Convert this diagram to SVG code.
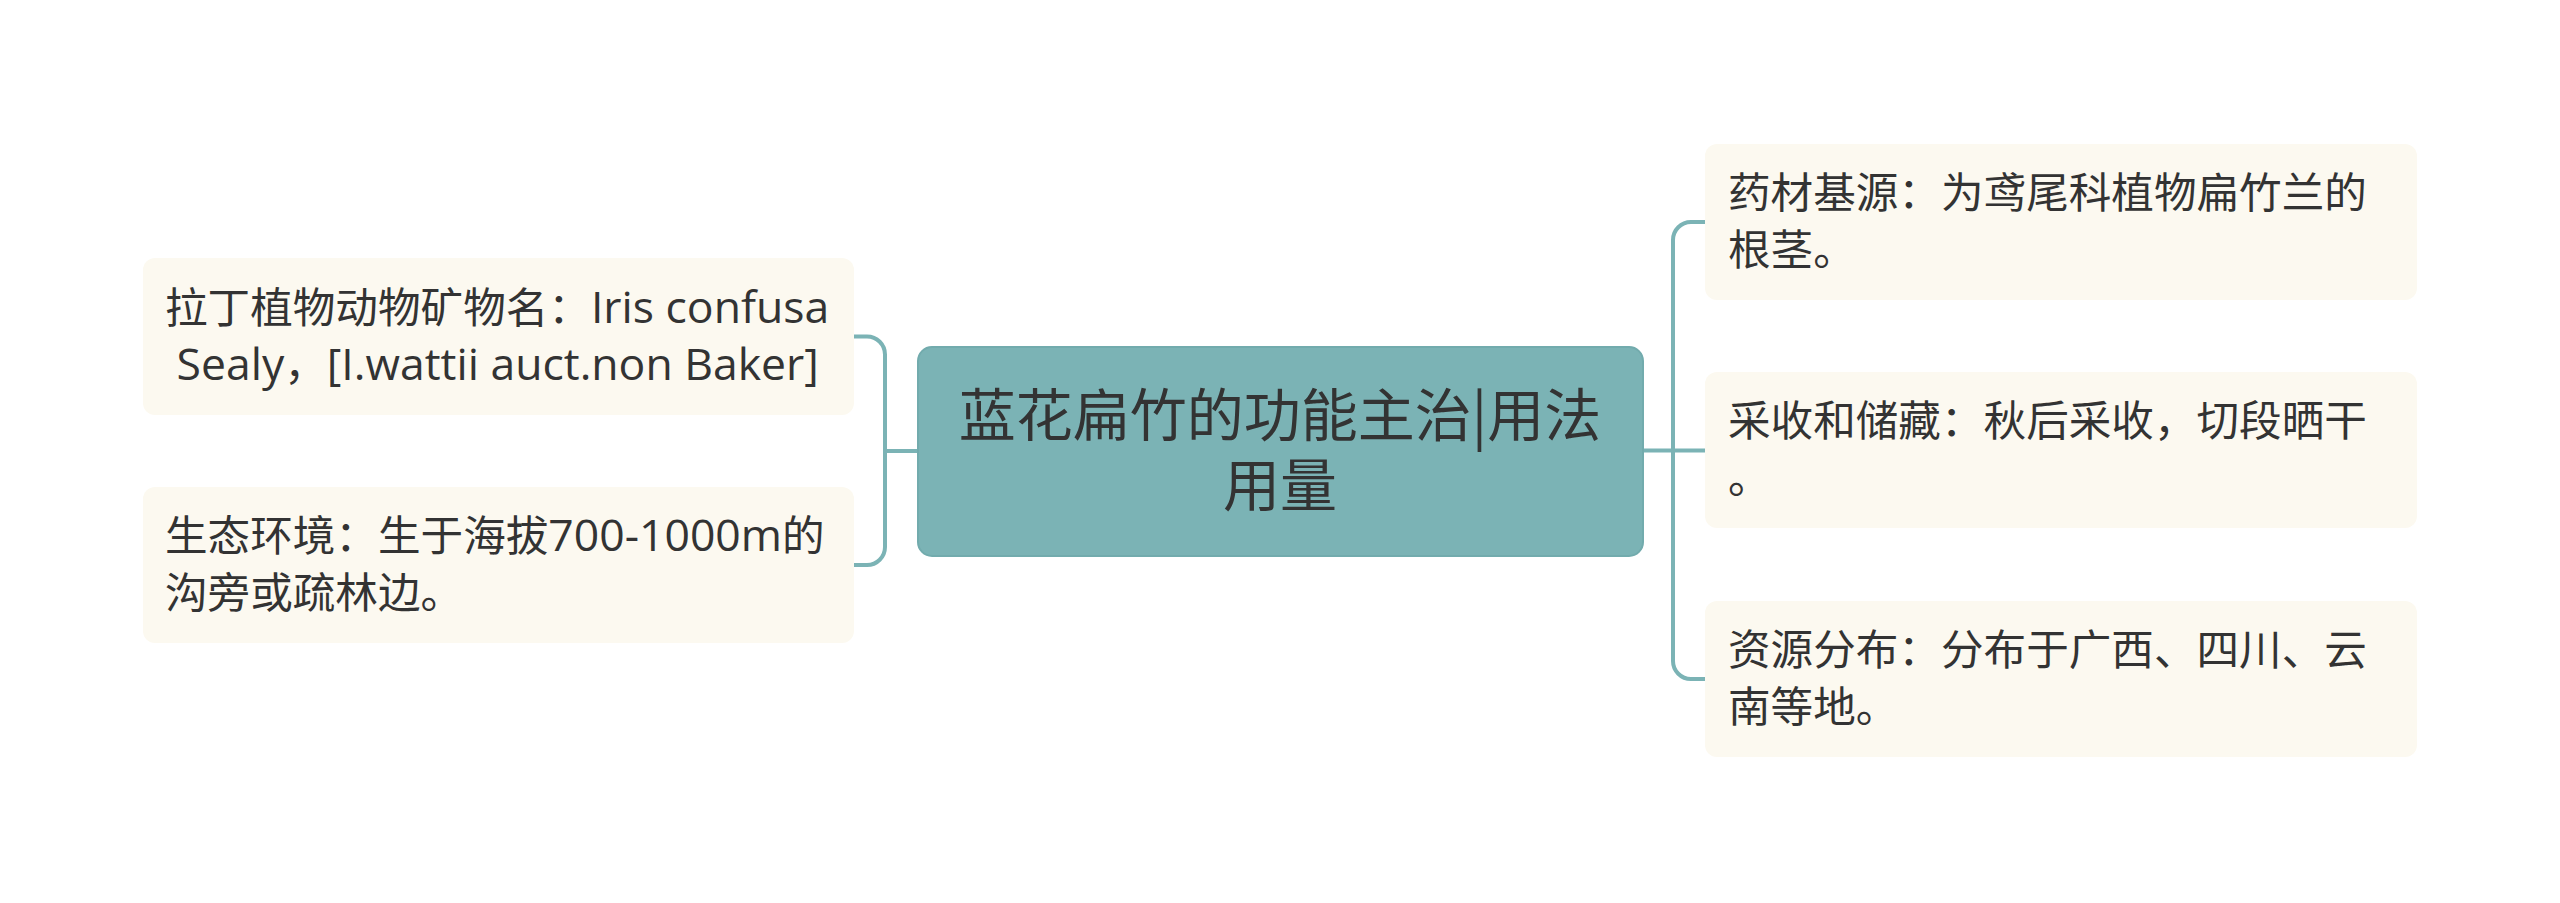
<svg xmlns="http://www.w3.org/2000/svg" width="2560" height="903" viewBox="0 0 2560 903">
  <style>
    .leaf { fill: #fcf9f0; }
    .root { fill: #7bb3b5; stroke: #72abad; stroke-width: 2; }
    .conn { fill: none; stroke: #7bb3b5; stroke-width: 4; stroke-linecap: butt; }
    .t { font-family: "Open Sans", "Noto Sans CJK SC", sans-serif; font-size: 42.6px; fill: #333333; }
    .lat { font-size: 44.5px; }
    .rt { font-family: "Noto Sans CJK SC", sans-serif; font-size: 57px; fill: #333333; text-anchor: middle; }
  </style>
  <rect width="2560" height="903" fill="#ffffff"/>

  <g id="connectors">
    <path class="conn" d="M917 451 H885"/>
    <path class="conn" d="M854 336.5 H867 A18 18 0 0 1 885 354.5 V547 A18 18 0 0 1 867 565 H854"/>
    <path class="conn" d="M1643 450.5 H1705"/>
    <path class="conn" d="M1705 222 H1691 A18 18 0 0 0 1673 240 V661 A18 18 0 0 0 1691 679 H1705"/>
  </g>

  <g id="root">
    <rect class="root" x="918" y="347" width="725" height="209" rx="14"/>
    <text class="rt" x="1280" y="436">蓝花扁竹的功能主治|用法</text>
    <text class="rt" x="1280" y="506">用量</text>
  </g>

  <g id="latin-name">
    <rect class="leaf" x="143" y="258" width="711" height="157" rx="12"/>
    <text class="t" x="165" y="323">拉丁植物动物矿物名：<tspan class="lat">Iris confusa</tspan></text>
    <text class="t" x="165" y="380" xml:space="preserve"><tspan class="lat"> Sealy</tspan>，<tspan class="lat">[I.wattii auct.non Baker]</tspan></text>
  </g>

  <g id="habitat">
    <rect class="leaf" x="143" y="487" width="711" height="156" rx="12"/>
    <text class="t" x="165" y="551">生态环境：生于海拔<tspan class="lat">700-1000m</tspan>的</text>
    <text class="t" x="165" y="608">沟旁或疏林边。</text>
  </g>

  <g id="source">
    <rect class="leaf" x="1705" y="144" width="712" height="156" rx="12"/>
    <text class="t" x="1728" y="208">药材基源：为鸢尾科植物扁竹兰的</text>
    <text class="t" x="1728" y="265">根茎。</text>
  </g>

  <g id="harvest">
    <rect class="leaf" x="1705" y="372" width="712" height="156" rx="12"/>
    <text class="t" x="1728" y="436">采收和储藏：秋后采收，切段晒干</text>
    <text class="t" x="1728" y="493">。</text>
  </g>

  <g id="distribution">
    <rect class="leaf" x="1705" y="601" width="712" height="156" rx="12"/>
    <text class="t" x="1728" y="665">资源分布：分布于广西、四川、云</text>
    <text class="t" x="1728" y="722">南等地。</text>
  </g>
</svg>
